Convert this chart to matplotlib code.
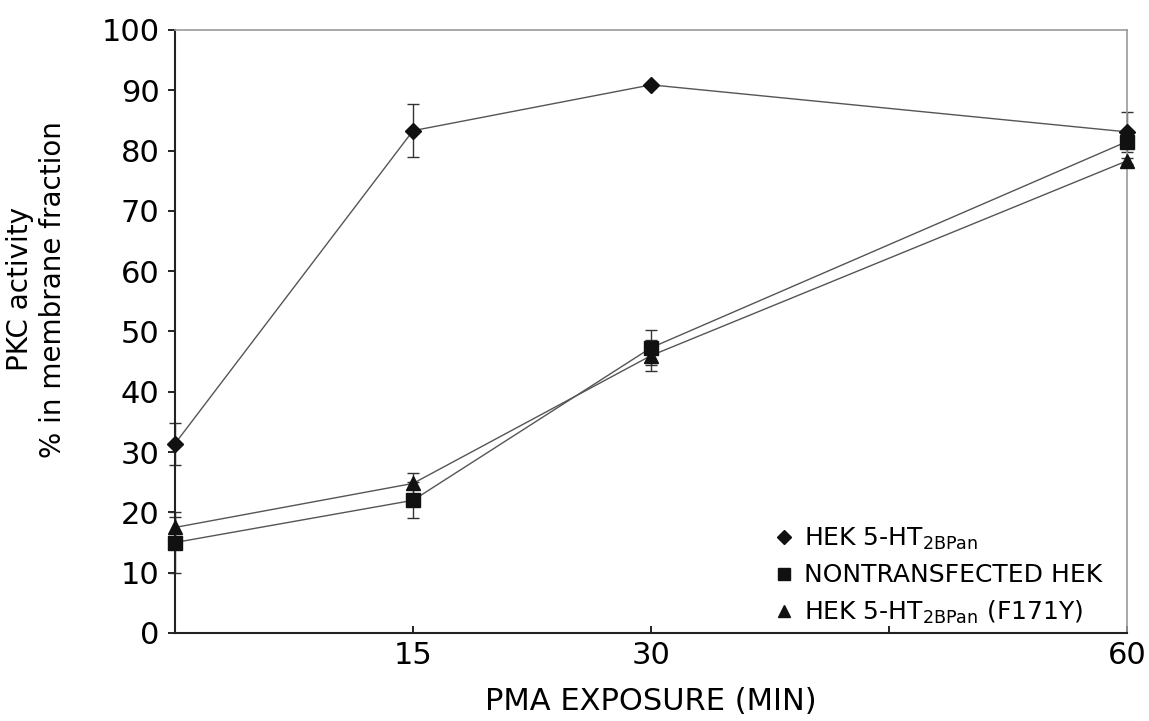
import matplotlib
matplotlib.use("Agg")
import matplotlib.pyplot as plt
from matplotlib.lines import Line2D

# PMA exposure time (min)
minutes = [0, 15, 30, 60]

# PKC activity, % in membrane fraction (mean, error)
hek_pan = [31.4, 83.3, 90.9, 83.1]
hek_pan_err = [3.5, 4.4, 0.0, 3.3]
nontransfected = [15.0, 22.0, 47.3, 81.5]
nontransfected_err = [5.0, 3.0, 2.9, 1.0]
hek_f171y = [17.5, 24.8, 46.0, 78.3]
hek_f171y_err = [1.8, 1.8, 2.6, 0.5]

labels = [r"HEK 5-HT$_{\mathregular{2BPan}}$",
          "NONTRANSFECTED HEK",
          r"HEK 5-HT$_{\mathregular{2BPan}}$ (F171Y)"]
markers = ["D", "s", "^"]
msizes = [8, 9.5, 10]

plt.rcParams["font.family"] = ["DejaVu Sans"]
plt.rcParams["mathtext.fontset"] = "dejavusans"

fig = plt.figure(figsize=(11.49, 7.21), dpi=100)
ax = fig.add_axes([0.1523, 0.1221, 0.8286, 0.8363])

series = [(hek_pan, hek_pan_err), (nontransfected, nontransfected_err),
          (hek_f171y, hek_f171y_err)]
for (y, err), m, ms in zip(series, markers, msizes):
    ax.errorbar(minutes, y, yerr=err, fmt="none", ecolor="#333333",
                elinewidth=1, capsize=4, capthick=1, zorder=2, clip_on=False)
    ax.plot(minutes, y, color="#555555", lw=1, zorder=3, clip_on=False)
    ax.plot(minutes, y, linestyle="none", marker=m, ms=ms, color="#111111",
            zorder=4, clip_on=False)

ax.set_xlim(0, 60)
ax.set_ylim(0, 100)
ax.set_xticks([0, 15, 30, 45, 60])
ax.set_xticklabels(["", "15", "30", "", "60"])
ax.set_yticks(range(0, 101, 10))
ax.tick_params(axis="x", direction="in", length=5, width=1.2,
               labelsize=22, pad=6)
ax.tick_params(axis="y", direction="out", length=5, width=1.2,
               labelsize=22, pad=6)

for side in ("left", "bottom"):
    ax.spines[side].set_color("#222222")
    ax.spines[side].set_linewidth(1.5)
for side in ("top", "right"):
    ax.spines[side].set_color("#999999")
    ax.spines[side].set_linewidth(1.2)

ax.set_xlabel("PMA EXPOSURE (MIN)", fontsize=22, labelpad=12)
ax.set_ylabel("PKC activity\n% in membrane fraction", fontsize=20,
              linespacing=1.25)
ax.yaxis.set_label_coords(-0.113, 0.57)

handles = [Line2D([], [], linestyle="none", marker=m, ms=ms * 0.9,
                  color="#111111") for m, ms in zip(markers, msizes)]
ax.legend(handles, labels, loc="lower right", bbox_to_anchor=(0.992, -0.017),
          frameon=False, fontsize=18, handlelength=0.8, handletextpad=0.4,
          labelspacing=0.45, borderaxespad=0.3)

fig.savefig("out.png", dpi=100)
